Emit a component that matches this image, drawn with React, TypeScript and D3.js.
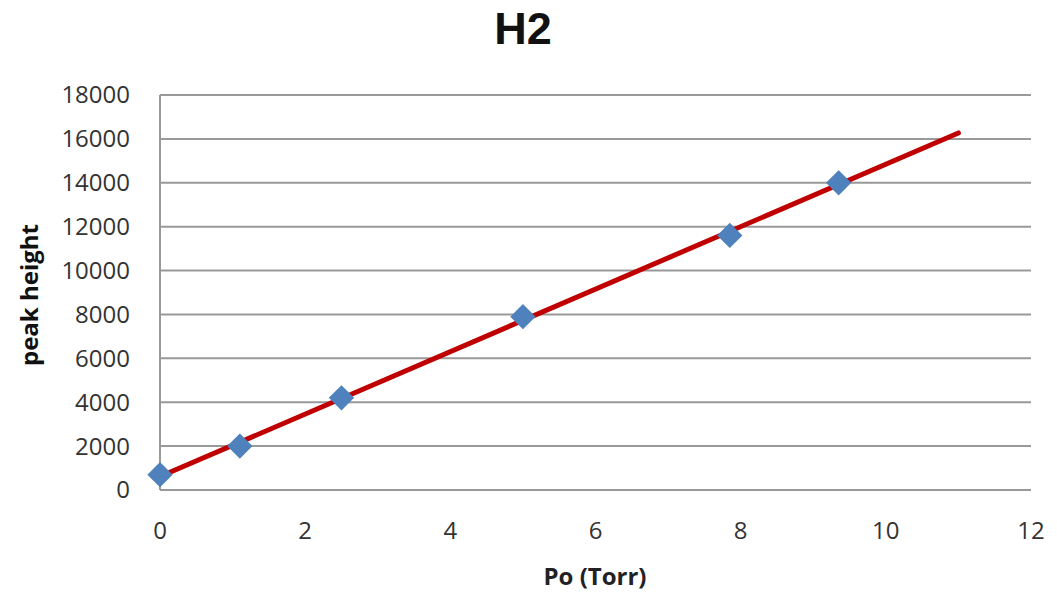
import React from 'react';
import * as d3 from 'd3';

// measured points (Po in Torr, peak height)
const pressures = [0, 1.1, 2.5, 5, 7.85, 9.35];
const peakHeights = [700, 2000, 4200, 7900, 11600, 14000];
const trendRange = [0, 11];
const xTicks = [0, 2, 4, 6, 8, 10, 12];
const yTicks = [0, 2000, 4000, 6000, 8000, 10000, 12000, 14000, 16000, 18000];

const W = 1057;
const H = 594;
const margin = { top: 95, right: 26, bottom: 104, left: 160 };

export default function App() {
  const x = d3.scaleLinear().domain([0, 12]).range([margin.left, W - margin.right]);
  const y = d3.scaleLinear().domain([0, 18000]).range([H - margin.bottom, margin.top]);

  // linear trendline (least squares), like the spreadsheet one
  const mx = d3.mean(pressures)!;
  const my = d3.mean(peakHeights)!;
  const sxy = d3.sum(pressures, (p, i) => (p - mx) * (peakHeights[i] - my));
  const sxx = d3.sum(pressures, p => (p - mx) ** 2);
  const slope = sxy / sxx;
  const icpt = my - slope * mx;
  const trend = trendRange.map(t => [t, icpt + slope * t] as [number, number]);
  const line = d3.line<[number, number]>().x(d => x(d[0])).y(d => y(d[1]));

  const diamond = d3.symbol(d3.symbolSquare, 320)()!;
  const font = '"Open Sans", "Liberation Sans", sans-serif';

  return (
    <div style={{ position: 'absolute', left: 0, top: 0 }}>
      <svg width={W} height={H} style={{ display: 'block', background: '#fff' }} fontFamily={font}>
        <text x={523} y={44} textAnchor="middle" fontSize={45} fontWeight="bold" fill="#111"
          fontFamily='"Liberation Sans", Arial, sans-serif'>H2</text>

        {yTicks.map(t => (
          <g key={t}>
            <line x1={x(0)} x2={x(12)} y1={y(t)} y2={y(t)} stroke="#999" strokeWidth={2} />
            <text x={margin.left - 30} y={y(t)} dy="0.35em" textAnchor="end" fontSize={24} fill="#333">{t}</text>
          </g>
        ))}
        <line x1={x(0)} x2={x(0)} y1={y(18000)} y2={y(0)} stroke="#999" strokeWidth={2} />

        {xTicks.map(t => (
          <text key={t} x={x(t)} y={y(0) + 41} dy="0.35em" textAnchor="middle" fontSize={24} fill="#333">{t}</text>
        ))}

        <path d={line(trend)!} fill="none" stroke="#c00000" strokeWidth={5} strokeLinecap="round" />

        {pressures.map((p, i) => (
          <path key={i} d={diamond} fill="#4f81bd"
            transform={`translate(${x(p)},${y(peakHeights[i])}) rotate(45)`} />
        ))}

        <text x={595} y={585} textAnchor="middle" fontSize={24} fontWeight="bold" fill="#222">Po (Torr)</text>
        <text transform={`translate(38,295) rotate(-90)`} textAnchor="middle" fontSize={24} fontWeight="bold" fill="#111">peak height</text>
      </svg>
    </div>
  );
}
